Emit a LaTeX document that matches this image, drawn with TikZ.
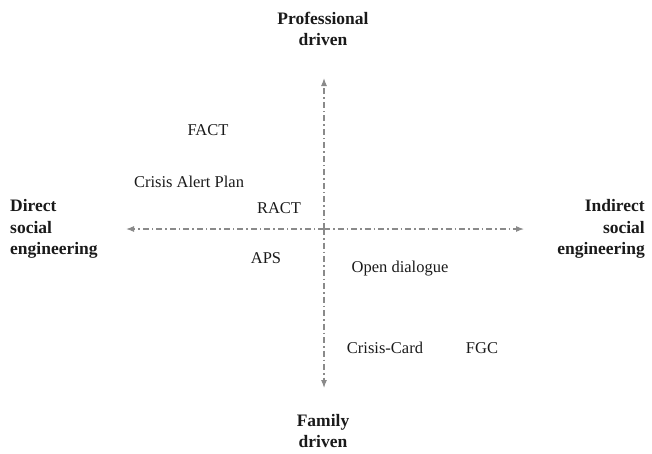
\documentclass[tikz,border=0pt]{standalone}
\usepackage{fontspec}
\setmainfont{Liberation Serif}
\usetikzlibrary{arrows.meta}
\definecolor{axisgray}{HTML}{8A8A8A}
\definecolor{txtgray}{HTML}{1A1A1A}
\begin{document}
\begin{tikzpicture}[x=1pt,y=-1pt,
  axis/.style={draw=axisgray, line width=1.1pt, dash pattern=on 6pt off 3pt on 1.5pt off 3pt, -{Latex[length=8pt,width=6pt]}},
  pole/.style={font=\fontsize{17.5}{21.5}\selectfont\bfseries, text=txtgray, inner sep=0pt},
  item/.style={font=\fontsize{16.5}{19}\selectfont, text=txtgray, inner sep=0pt}]
\useasboundingbox (0,0) rectangle (652,453);
\coordinate (c) at (324,229);
\coordinate (top) at (324,78);
\coordinate (bot) at (324,388);
\coordinate (lft) at (126,229);
\coordinate (rgt) at (524,229);
\draw[axis] (c) -- (top);
\draw[axis] (c) -- (bot);
\draw[axis] (c) -- (lft);
\draw[axis] (c) -- (rgt);
\node[pole, align=center] (prof) at (323,29) {Professional\\driven};
\node[pole, align=center] (fam) at (323,431) {Family\\driven};
\node[pole, align=left, anchor=west] (dir) at (10,229) {Direct\\social\\engineering};
\node[pole, align=right, anchor=east] (ind) at (645,229) {Indirect\\social\\engineering};
\node[item] (fact) at (208,130) {FACT};
\node[item] (cap) at (189,182) {Crisis Alert Plan};
\node[item] (ract) at (279,208) {RACT};
\node[item] (aps) at (266,258) {APS};
\node[item] (od) at (400,269) {Open dialogue};
\node[item] (cc) at (385,348) {Crisis-Card};
\node[item] (fgc) at (482,348) {FGC};
\end{tikzpicture}
\end{document}
